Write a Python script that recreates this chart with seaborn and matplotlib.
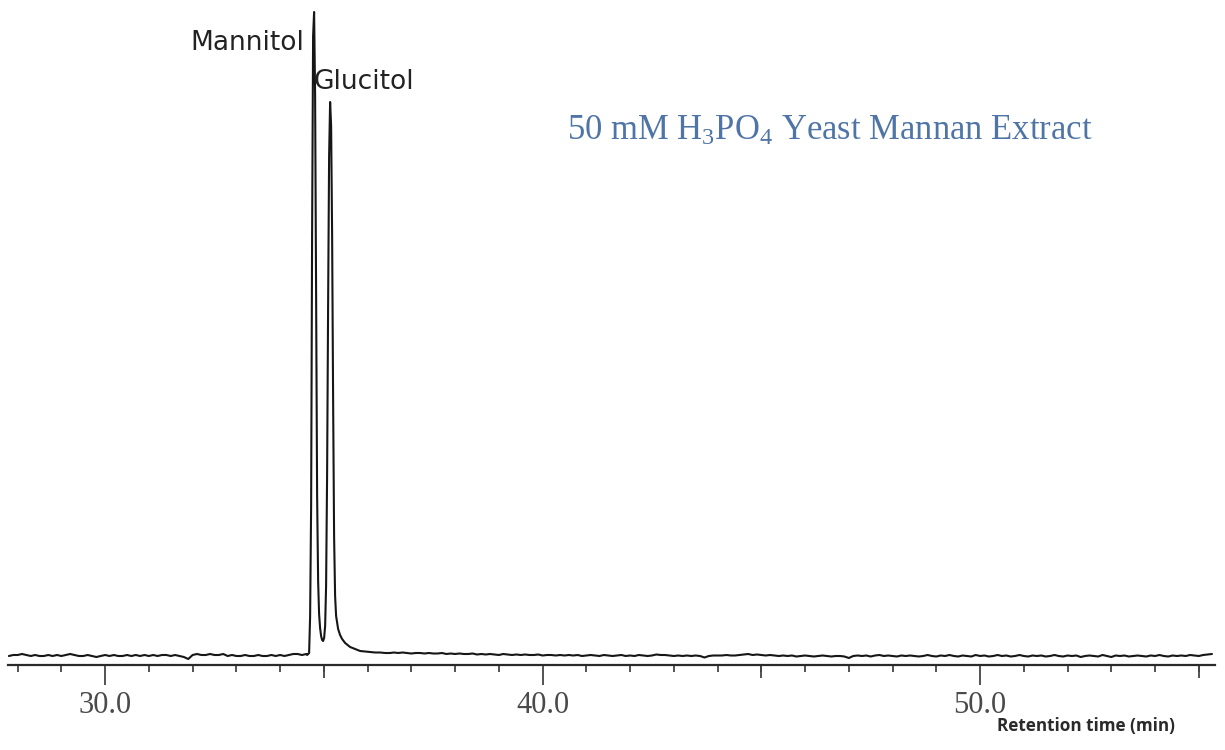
import numpy as np
import pandas as pd
import matplotlib
matplotlib.use("Agg")
import matplotlib.pyplot as plt
import seaborn as sns

# Detector response (arbitrary units, baseline = 0)
# Pre-peak baseline, sampled every 0.1 min from 27.8 min
pre_start = 27.8
pre_signal = [0, 1, 1, 2, 1, 0, 1, 0, 0, 1,
              0, 1, 0, 1, 2, 1, 0, 0, 1, 0,
              -1, 0, 1, 0, 1, 0, 0, 1, 0, 1,
              0, 1, 0, 1, 0, 1, 1, 0, 1, 0,
              -1, -3, 1, 2, 1, 1, 2, 1, 1, 2,
              0, 1, 0, 0, 1, 0, 0, 1, 0, 0,
              1, 0, 1, 0, 1, 2, 2, 1, 2]

# Mannitol / glucitol elution window
peak_time = [34.617, 34.640, 34.663, 34.686, 34.709, 34.731, 34.754, 34.777,
             34.800, 34.823, 34.846, 34.869, 34.891, 34.914, 34.937, 34.960,
             34.983, 35.006, 35.029, 35.051, 35.074, 35.097, 35.120, 35.143,
             35.166, 35.189, 35.211, 35.234, 35.257, 35.280, 35.326, 35.371,
             35.417, 35.486, 35.600, 35.714, 35.829, 35.943, 36.057, 36.171,
             36.286, 36.400, 36.514]
peak_signal = [1, 2, 3, 40, 150, 420, 620, 644,
               560, 360, 160, 75, 42, 28, 20, 16,
               15, 18, 30, 70, 180, 350, 500, 554,
               530, 420, 260, 120, 60, 40, 27, 21,
               17, 13, 9, 7, 5, 4.5, 4, 3.5,
               3.5, 3, 3]

# Post-peak baseline, sampled every 0.1 min from 36.6 min
post_start = 36.6
post_signal = [3.5, 3, 3.5, 3, 2.5, 3, 3, 2.5, 3, 2.5,
               2.5, 3, 2, 2.5, 2, 2.5, 2, 2, 2.5, 1.5,
               2, 1.5, 2, 1.5, 1, 2, 1.5, 1, 1.5, 1,
               1.5, 1, 1, 1.5, 0.5, 1, 1, 0.5, 1, 0.5,
               1, 0.5, 1, 0, 0.5, 1, 0.5, 0, 1, 0.5,
               0, 0.5, 1, 0, 0.5, 0, 1, 0.5, 0, 0.5,
               1.5, 1, 1, 0.5, 0, 0.5, 0, 0.5, 0, 0.5,
               0, -1.5, 0, 0.5, 0.5, 0.5, 1, 0.5, 0.5, 1,
               1.5, 2, 1, 1.5, 1, 0.5, 1, 0.5, 0, 0.5,
               0, 0.5, -0.5, 0, 0.5, 0, -0.5, 0, 0.5, 0,
               -0.5, 0, 0, -0.5, -2, 0, 0.5, 0, 0.5, -0.5,
               0.5, 1, 0, 0.5, 0, -0.5, 0.5, 0, 0.5, 0,
               -0.5, 0, 1, 0, -0.5, 0.5, 0, 1, 0, -0.5,
               0.5, 0, -0.5, 1, 0, 0.5, -0.5, 0, 1, 0,
               0.5, -0.5, 0, 1, 0, -0.5, 0.5, 0, 0.5, -0.5,
               0, 1, 0, -0.5, 0.5, 0, 0.5, -1, 0, 0.5,
               0, -0.5, 1, 0, -1, 0.5, 0, 0.5, -0.5, 0,
               0.5, 0, -0.5, 0.5, 0, 1, 0, -0.5, 0.5, 0,
               0.5, 0, 1, 0.5, 0, 1, 1.5, 2]

major_ticks = [30.0, 40.0, 50.0]
tick_labels = ["30.0", "40.0", "50.0"]
mid_ticks = [35.0, 45.0, 55.0]
minor_ticks = list(range(28, 56))

peak_names = ["Mannitol", "Glucitol"]
title_text = r"50 mM H$_3$PO$_4$ Yeast Mannan Extract"
xlabel_text = "Retention time (min)"

pre_time = pre_start + 0.1 * np.arange(len(pre_signal))
post_time = post_start + 0.1 * np.arange(len(post_signal))

trace = pd.DataFrame({
    "time": np.concatenate([pre_time, peak_time, post_time]),
    "signal": np.concatenate([pre_signal, peak_signal, post_signal]).astype(float),
})

sns.set_style("white")
plt.rcParams["mathtext.fontset"] = "custom"
plt.rcParams["mathtext.rm"] = "Liberation Serif"
plt.rcParams["mathtext.it"] = "Liberation Serif"

fig = plt.figure(figsize=(12.25, 7.5), dpi=100)
ax = fig.add_axes([8 / 1225, 85 / 750, 1207 / 1225, 665 / 750])

sns.lineplot(data=trace, x="time", y="signal", ax=ax, sort=False,
             color="#161616", linewidth=1.5, estimator=None)

ax.set_xlim(27.78, 55.37)
ax.set_ylim(-9, 656)
ax.set_xlabel("")
ax.set_ylabel("")
ax.set_yticks([])

for side in ["top", "left", "right"]:
    ax.spines[side].set_visible(False)
ax.spines["bottom"].set_color("#2a2a2a")
ax.spines["bottom"].set_linewidth(1.6)

ax.set_xticks(major_ticks)
ax.set_xticklabels(tick_labels, family="Liberation Serif", fontsize=22,
                   color="#4a4a4a")
ax.set_xticks(minor_ticks, minor=True)
ax.tick_params(axis="x", which="major", direction="out", length=14.5,
               width=1.3, color="#444444", pad=4.5, bottom=True)
ax.tick_params(axis="x", which="minor", direction="out", length=5,
               width=1.3, color="#444444", bottom=True)

# medium-length ticks at the half-decade marks
sec = ax.secondary_xaxis("bottom")
sec.set_xticks(mid_ticks)
sec.set_xticklabels([])
sec.tick_params(axis="x", which="major", direction="out", length=9,
                width=1.3, color="#444444")
sec.tick_params(axis="x", which="minor", bottom=False)
sec.spines["bottom"].set_visible(False)

# peak labels
ax.text(34.55, 613, peak_names[0], ha="right", va="center",
        family="DejaVu Sans", fontsize=19, color="#222222")
ax.text(34.76, 574, peak_names[1], ha="left", va="center",
        family="DejaVu Sans", fontsize=19, color="#222222")

fig.text(567 / 1225, 1 - 131 / 750, title_text, ha="left", va="center",
         family="Liberation Serif", fontsize=24.9, color="#4f74a6")

fig.text(997 / 1225, 1 - 726 / 750, xlabel_text, ha="left", va="center",
         family="Open Sans", fontweight="bold", fontsize=12.3, color="#2a2a2a")

fig.savefig("out.png", dpi=100)
